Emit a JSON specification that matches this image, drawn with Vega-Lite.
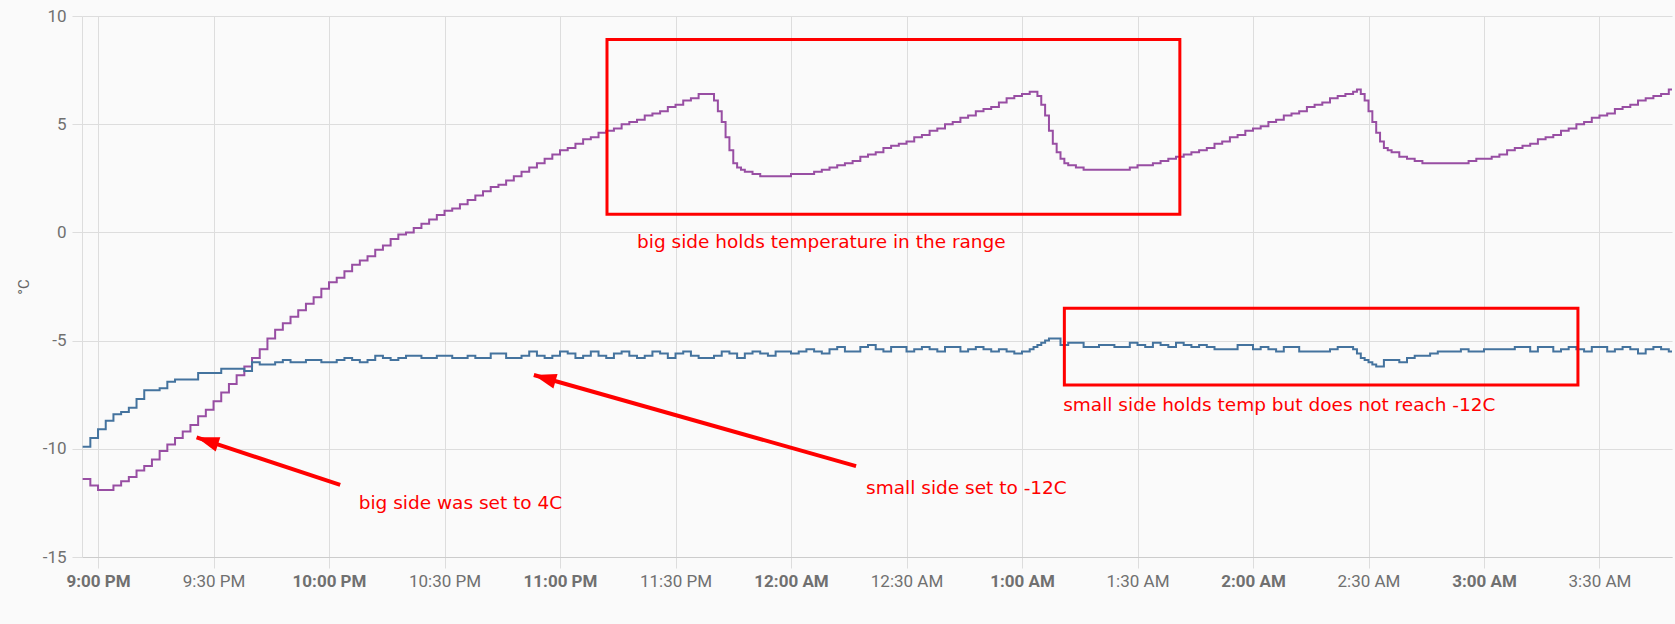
{
  "$schema": "https://vega.github.io/schema/vega-lite/v6.json",
  "autosize": {"type": "none"},
  "padding": {"left": 82, "top": 16, "right": 3, "bottom": 67},
  "width": 1590,
  "height": 541,
  "background": "#fafafa",
  "config": {"view": {"stroke": null}, "font": "Roboto"},
  "layer": [
    {
      "data": {
        "format": {"parse": {"t": "utc:'%d %H:%M'"}},
        "values": [
{"t":"01 20:56","b":-11.4,"s":-9.9},
{"t":"01 20:58","b":-11.7,"s":-9.5},
{"t":"01 21:00","b":-11.9,"s":-9.1},
{"t":"01 21:02","b":-11.9,"s":-8.7},
{"t":"01 21:04","b":-11.7,"s":-8.4},
{"t":"01 21:06","b":-11.5,"s":-8.3},
{"t":"01 21:08","b":-11.3,"s":-8.1},
{"t":"01 21:10","b":-11.0,"s":-7.7},
{"t":"01 21:12","b":-10.8,"s":-7.3},
{"t":"01 21:14","b":-10.5,"s":-7.3},
{"t":"01 21:16","b":-10.1,"s":-7.2},
{"t":"01 21:18","b":-9.8,"s":-6.9},
{"t":"01 21:20","b":-9.5,"s":-6.8},
{"t":"01 21:22","b":-9.2,"s":-6.8},
{"t":"01 21:24","b":-8.9,"s":-6.8},
{"t":"01 21:26","b":-8.5,"s":-6.5},
{"t":"01 21:28","b":-8.2,"s":-6.5},
{"t":"01 21:30","b":-7.8,"s":-6.5},
{"t":"01 21:32","b":-7.4,"s":-6.3},
{"t":"01 21:34","b":-7.0,"s":-6.3},
{"t":"01 21:36","b":-6.6,"s":-6.3},
{"t":"01 21:38","b":-6.2,"s":-6.4},
{"t":"01 21:40","b":-5.8,"s":-6.0},
{"t":"01 21:42","b":-5.4,"s":-6.1},
{"t":"01 21:44","b":-4.9,"s":-6.1},
{"t":"01 21:46","b":-4.5,"s":-6.0},
{"t":"01 21:48","b":-4.2,"s":-5.9},
{"t":"01 21:50","b":-3.9,"s":-6.0},
{"t":"01 21:52","b":-3.6,"s":-6.0},
{"t":"01 21:54","b":-3.3,"s":-5.9},
{"t":"01 21:56","b":-3.0,"s":-5.9},
{"t":"01 21:58","b":-2.6,"s":-6.0},
{"t":"01 22:00","b":-2.3,"s":-6.0},
{"t":"01 22:02","b":-2.1,"s":-5.9},
{"t":"01 22:04","b":-1.8,"s":-5.8},
{"t":"01 22:06","b":-1.5,"s":-5.9},
{"t":"01 22:08","b":-1.3,"s":-6.0},
{"t":"01 22:10","b":-1.1,"s":-5.9},
{"t":"01 22:12","b":-0.8,"s":-5.7},
{"t":"01 22:14","b":-0.6,"s":-5.8},
{"t":"01 22:16","b":-0.3,"s":-5.9},
{"t":"01 22:18","b":-0.1,"s":-5.8},
{"t":"01 22:20","b":0.0,"s":-5.7},
{"t":"01 22:22","b":0.2,"s":-5.7},
{"t":"01 22:24","b":0.4,"s":-5.8},
{"t":"01 22:26","b":0.6,"s":-5.8},
{"t":"01 22:28","b":0.8,"s":-5.7},
{"t":"01 22:30","b":1.0,"s":-5.7},
{"t":"01 22:32","b":1.1,"s":-5.8},
{"t":"01 22:34","b":1.3,"s":-5.8},
{"t":"01 22:36","b":1.5,"s":-5.7},
{"t":"01 22:38","b":1.7,"s":-5.8},
{"t":"01 22:40","b":1.9,"s":-5.8},
{"t":"01 22:42","b":2.1,"s":-5.6},
{"t":"01 22:44","b":2.2,"s":-5.6},
{"t":"01 22:46","b":2.4,"s":-5.8},
{"t":"01 22:48","b":2.6,"s":-5.8},
{"t":"01 22:50","b":2.8,"s":-5.7},
{"t":"01 22:52","b":3.0,"s":-5.5},
{"t":"01 22:54","b":3.2,"s":-5.7},
{"t":"01 22:56","b":3.4,"s":-5.8},
{"t":"01 22:58","b":3.6,"s":-5.7},
{"t":"01 23:00","b":3.8,"s":-5.5},
{"t":"01 23:02","b":3.9,"s":-5.6},
{"t":"01 23:04","b":4.1,"s":-5.8},
{"t":"01 23:06","b":4.3,"s":-5.7},
{"t":"01 23:08","b":4.4,"s":-5.5},
{"t":"01 23:10","b":4.6,"s":-5.7},
{"t":"01 23:12","b":4.7,"s":-5.8},
{"t":"01 23:14","b":4.8,"s":-5.6},
{"t":"01 23:16","b":5.0,"s":-5.5},
{"t":"01 23:18","b":5.1,"s":-5.7},
{"t":"01 23:20","b":5.2,"s":-5.8},
{"t":"01 23:22","b":5.4,"s":-5.7},
{"t":"01 23:24","b":5.5,"s":-5.5},
{"t":"01 23:26","b":5.6,"s":-5.6},
{"t":"01 23:28","b":5.8,"s":-5.8},
{"t":"01 23:30","b":5.9,"s":-5.6},
{"t":"01 23:32","b":6.1,"s":-5.5},
{"t":"01 23:34","b":6.2,"s":-5.7},
{"t":"01 23:36","b":6.4,"s":-5.8},
{"t":"01 23:38","b":6.4,"s":-5.8},
{"t":"01 23:39","b":6.4,"s":-5.8},
{"t":"01 23:40","b":6.1,"s":-5.7},
{"t":"01 23:41","b":5.6,"s":-5.7},
{"t":"01 23:42","b":5.1,"s":-5.5},
{"t":"01 23:43","b":4.4,"s":-5.5},
{"t":"01 23:44","b":3.8,"s":-5.6},
{"t":"01 23:45","b":3.2,"s":-5.6},
{"t":"01 23:46","b":3.0,"s":-5.8},
{"t":"01 23:47","b":2.9,"s":-5.8},
{"t":"01 23:48","b":2.8,"s":-5.6},
{"t":"01 23:50","b":2.7,"s":-5.5},
{"t":"01 23:52","b":2.6,"s":-5.6},
{"t":"01 23:54","b":2.6,"s":-5.7},
{"t":"01 23:56","b":2.6,"s":-5.5},
{"t":"01 23:58","b":2.6,"s":-5.5},
{"t":"02 00:00","b":2.7,"s":-5.6},
{"t":"02 00:02","b":2.7,"s":-5.5},
{"t":"02 00:04","b":2.7,"s":-5.4},
{"t":"02 00:06","b":2.8,"s":-5.5},
{"t":"02 00:08","b":2.9,"s":-5.6},
{"t":"02 00:10","b":3.0,"s":-5.4},
{"t":"02 00:12","b":3.1,"s":-5.3},
{"t":"02 00:14","b":3.2,"s":-5.5},
{"t":"02 00:16","b":3.3,"s":-5.5},
{"t":"02 00:18","b":3.5,"s":-5.3},
{"t":"02 00:20","b":3.6,"s":-5.2},
{"t":"02 00:22","b":3.7,"s":-5.4},
{"t":"02 00:24","b":3.9,"s":-5.5},
{"t":"02 00:26","b":4.0,"s":-5.3},
{"t":"02 00:28","b":4.1,"s":-5.3},
{"t":"02 00:30","b":4.2,"s":-5.5},
{"t":"02 00:32","b":4.4,"s":-5.4},
{"t":"02 00:34","b":4.5,"s":-5.3},
{"t":"02 00:36","b":4.7,"s":-5.4},
{"t":"02 00:38","b":4.8,"s":-5.5},
{"t":"02 00:40","b":5.0,"s":-5.3},
{"t":"02 00:42","b":5.1,"s":-5.3},
{"t":"02 00:44","b":5.3,"s":-5.5},
{"t":"02 00:46","b":5.4,"s":-5.4},
{"t":"02 00:48","b":5.6,"s":-5.3},
{"t":"02 00:50","b":5.7,"s":-5.4},
{"t":"02 00:52","b":5.8,"s":-5.5},
{"t":"02 00:54","b":6.0,"s":-5.4},
{"t":"02 00:56","b":6.2,"s":-5.5},
{"t":"02 00:58","b":6.3,"s":-5.6},
{"t":"02 01:00","b":6.4,"s":-5.5},
{"t":"02 01:02","b":6.5,"s":-5.4},
{"t":"02 01:03","b":6.5,"s":-5.3},
{"t":"02 01:04","b":6.3,"s":-5.2},
{"t":"02 01:05","b":5.9,"s":-5.1},
{"t":"02 01:06","b":5.4,"s":-5.0},
{"t":"02 01:07","b":4.7,"s":-4.9},
{"t":"02 01:08","b":4.1,"s":-4.9},
{"t":"02 01:09","b":3.7,"s":-4.9},
{"t":"02 01:10","b":3.4,"s":-5.2},
{"t":"02 01:11","b":3.2,"s":-5.2},
{"t":"02 01:12","b":3.1,"s":-5.1},
{"t":"02 01:14","b":3.0,"s":-5.1},
{"t":"02 01:16","b":2.9,"s":-5.3},
{"t":"02 01:18","b":2.9,"s":-5.3},
{"t":"02 01:20","b":2.9,"s":-5.2},
{"t":"02 01:22","b":2.9,"s":-5.2},
{"t":"02 01:24","b":2.9,"s":-5.3},
{"t":"02 01:26","b":2.9,"s":-5.3},
{"t":"02 01:28","b":3.0,"s":-5.1},
{"t":"02 01:30","b":3.1,"s":-5.2},
{"t":"02 01:32","b":3.1,"s":-5.3},
{"t":"02 01:34","b":3.2,"s":-5.1},
{"t":"02 01:36","b":3.3,"s":-5.2},
{"t":"02 01:38","b":3.4,"s":-5.3},
{"t":"02 01:40","b":3.5,"s":-5.1},
{"t":"02 01:42","b":3.6,"s":-5.2},
{"t":"02 01:44","b":3.7,"s":-5.3},
{"t":"02 01:46","b":3.8,"s":-5.2},
{"t":"02 01:48","b":3.9,"s":-5.3},
{"t":"02 01:50","b":4.1,"s":-5.4},
{"t":"02 01:52","b":4.2,"s":-5.4},
{"t":"02 01:54","b":4.4,"s":-5.4},
{"t":"02 01:56","b":4.5,"s":-5.2},
{"t":"02 01:58","b":4.7,"s":-5.2},
{"t":"02 02:00","b":4.8,"s":-5.4},
{"t":"02 02:02","b":4.9,"s":-5.3},
{"t":"02 02:04","b":5.1,"s":-5.4},
{"t":"02 02:06","b":5.2,"s":-5.5},
{"t":"02 02:08","b":5.4,"s":-5.3},
{"t":"02 02:10","b":5.5,"s":-5.3},
{"t":"02 02:12","b":5.6,"s":-5.5},
{"t":"02 02:14","b":5.8,"s":-5.5},
{"t":"02 02:16","b":5.9,"s":-5.5},
{"t":"02 02:18","b":6.0,"s":-5.5},
{"t":"02 02:20","b":6.2,"s":-5.4},
{"t":"02 02:22","b":6.3,"s":-5.3},
{"t":"02 02:24","b":6.4,"s":-5.3},
{"t":"02 02:26","b":6.5,"s":-5.4},
{"t":"02 02:27","b":6.6,"s":-5.6},
{"t":"02 02:28","b":6.4,"s":-5.8},
{"t":"02 02:29","b":6.1,"s":-5.9},
{"t":"02 02:30","b":5.6,"s":-6.0},
{"t":"02 02:31","b":5.1,"s":-6.1},
{"t":"02 02:32","b":4.6,"s":-6.2},
{"t":"02 02:33","b":4.2,"s":-6.2},
{"t":"02 02:34","b":3.9,"s":-5.9},
{"t":"02 02:35","b":3.8,"s":-5.9},
{"t":"02 02:36","b":3.7,"s":-5.9},
{"t":"02 02:38","b":3.5,"s":-6.0},
{"t":"02 02:40","b":3.4,"s":-5.8},
{"t":"02 02:42","b":3.3,"s":-5.7},
{"t":"02 02:44","b":3.2,"s":-5.7},
{"t":"02 02:46","b":3.2,"s":-5.6},
{"t":"02 02:48","b":3.2,"s":-5.5},
{"t":"02 02:50","b":3.2,"s":-5.5},
{"t":"02 02:52","b":3.2,"s":-5.5},
{"t":"02 02:54","b":3.2,"s":-5.4},
{"t":"02 02:56","b":3.3,"s":-5.5},
{"t":"02 02:58","b":3.4,"s":-5.5},
{"t":"02 03:00","b":3.4,"s":-5.4},
{"t":"02 03:02","b":3.5,"s":-5.4},
{"t":"02 03:04","b":3.6,"s":-5.4},
{"t":"02 03:06","b":3.8,"s":-5.4},
{"t":"02 03:08","b":3.9,"s":-5.3},
{"t":"02 03:10","b":4.0,"s":-5.3},
{"t":"02 03:12","b":4.1,"s":-5.5},
{"t":"02 03:14","b":4.3,"s":-5.3},
{"t":"02 03:16","b":4.4,"s":-5.3},
{"t":"02 03:18","b":4.5,"s":-5.5},
{"t":"02 03:20","b":4.7,"s":-5.4},
{"t":"02 03:22","b":4.8,"s":-5.3},
{"t":"02 03:24","b":5.0,"s":-5.4},
{"t":"02 03:26","b":5.1,"s":-5.5},
{"t":"02 03:28","b":5.3,"s":-5.3},
{"t":"02 03:30","b":5.4,"s":-5.3},
{"t":"02 03:32","b":5.5,"s":-5.5},
{"t":"02 03:34","b":5.7,"s":-5.4},
{"t":"02 03:36","b":5.8,"s":-5.3},
{"t":"02 03:38","b":5.9,"s":-5.4},
{"t":"02 03:40","b":6.1,"s":-5.6},
{"t":"02 03:42","b":6.2,"s":-5.4},
{"t":"02 03:44","b":6.3,"s":-5.3},
{"t":"02 03:46","b":6.4,"s":-5.4},
{"t":"02 03:48","b":6.6,"s":-5.5},
{"t":"02 03:50","b":6.6,"s":-5.5}
        ]
      },
      "layer": [
        {
          "mark": {"type": "line", "interpolate": "step-after", "color": "#984ea3", "strokeWidth": 2, "clip": true},
          "encoding": {
            "x": {
              "field": "t", "type": "temporal",
              "scale": {"type": "utc", "nice": false, "domain": [-2208913450000, -2208888670000]},
              "axis": {
                "title": null,
                "tickCount": 14,
                "labelExpr": "utcFormat(datum.value, '%-I:%M %p')",
                "labelFontWeight": {"condition": {"test": "utcminutes(datum.value) === 0", "value": "bold"}, "value": "normal"},
                "labelFont": "Roboto",
                "labelFontSize": 17,
                "labelColor": "#707070",
                "labelPadding": 5,
                "labelFlush": false,
                "labelOverlap": false,
                "tickSize": 11,
                "tickColor": "#dddddd",
                "gridColor": "#dddddd",
                "domainColor": "#cccccc"
              }
            },
            "y": {
              "field": "b", "type": "quantitative",
              "scale": {"domain": [-15, 10], "nice": false, "zero": false},
              "axis": {
                "title": "°C",
                "values": [-15, -10, -5, 0, 5, 10],
                "labelExpr": "toString(datum.value)",
                "labelFont": "Roboto",
                "labelFontSize": 17,
                "labelColor": "#707070",
                "labelPadding": 6,
                "tickSize": 10,
                "tickColor": "#dddddd",
                "gridColor": "#dddddd",
                "domainColor": "#dddddd",
                "titleFont": "Roboto",
                "titleFontSize": 15,
                "titleFontWeight": "normal",
                "titleColor": "#666666",
                "titlePadding": 11
              }
            }
          }
        },
        {
          "mark": {"type": "line", "interpolate": "step-after", "color": "#44739e", "strokeWidth": 2, "clip": true},
          "encoding": {
            "x": {"field": "t", "type": "temporal"},
            "y": {"field": "s", "type": "quantitative"}
          }
        }
      ]
    },
    {
      "data": {
        "format": {"parse": {"x": "utc:'%d %H:%M:%S'", "x2": "utc:'%d %H:%M:%S'"}},
        "values": [
          {"x": "01 23:12:12", "x2": "02 01:41:00", "y": 8.91, "y2": 0.84},
          {"x": "02 01:11:00", "x2": "02 03:24:24", "y": -3.51, "y2": -7.05}
        ]
      },
      "mark": {"type": "rect", "fillOpacity": 0, "stroke": "#ff0000", "strokeWidth": 3},
      "encoding": {
        "x": {"field": "x", "type": "temporal"},
        "x2": {"field": "x2"},
        "y": {"field": "y", "type": "quantitative"},
        "y2": {"field": "y2"}
      }
    },
    {
      "data": {
        "format": {"parse": {"x": "utc:'%d %H:%M:%S'", "x2": "utc:'%d %H:%M:%S'"}},
        "values": [
          {"id": "a1", "x": "01 22:02:54", "y": -11.67, "x2": "01 21:25:36", "y2": -9.47},
          {"id": "a2", "x": "02 00:16:54", "y": -10.8, "x2": "01 22:53:12", "y2": -6.59}
        ]
      },
      "layer": [
        {
          "mark": {"type": "rule", "color": "#ff0000", "strokeWidth": 4},
          "encoding": {
            "x": {"field": "x", "type": "temporal"},
            "x2": {"field": "x2"},
            "y": {"field": "y", "type": "quantitative"},
            "y2": {"field": "y2"}
          }
        },
        {
          "transform": [{"filter": "datum.id === 'a1'"}],
          "mark": {"type": "point", "shape": "M0,0L0.5,1.5L-0.5,1.5Z", "size": 900, "angle": 288, "filled": true, "color": "#ff0000", "opacity": 1, "strokeWidth": 0},
          "encoding": {
            "x": {"field": "x2", "type": "temporal"},
            "y": {"field": "y2", "type": "quantitative"}
          }
        },
        {
          "transform": [{"filter": "datum.id === 'a2'"}],
          "mark": {"type": "point", "shape": "M0,0L0.5,1.5L-0.5,1.5Z", "size": 900, "angle": 286, "filled": true, "color": "#ff0000", "opacity": 1, "strokeWidth": 0},
          "encoding": {
            "x": {"field": "x2", "type": "temporal"},
            "y": {"field": "y2", "type": "quantitative"}
          }
        }
      ]
    },
    {
      "data": {
        "format": {"parse": {"x": "utc:'%d %H:%M:%S'"}},
        "values": [
          {"x": "01 23:20:00", "y": -0.7, "label": "big side holds temperature in the range"},
          {"x": "02 01:10:42", "y": -8.25, "label": "small side holds temp but does not reach -12C"},
          {"x": "01 22:07:42", "y": -12.8, "label": "big side was set to 4C"},
          {"x": "02 00:19:30", "y": -12.09, "label": "small side set to -12C"}
        ]
      },
      "mark": {"type": "text", "align": "left", "baseline": "alphabetic", "font": "DejaVu Sans", "fontSize": 18.5, "color": "#ff0000"},
      "encoding": {
        "x": {"field": "x", "type": "temporal"},
        "y": {"field": "y", "type": "quantitative"},
        "text": {"field": "label"}
      }
    }
  ]
}
